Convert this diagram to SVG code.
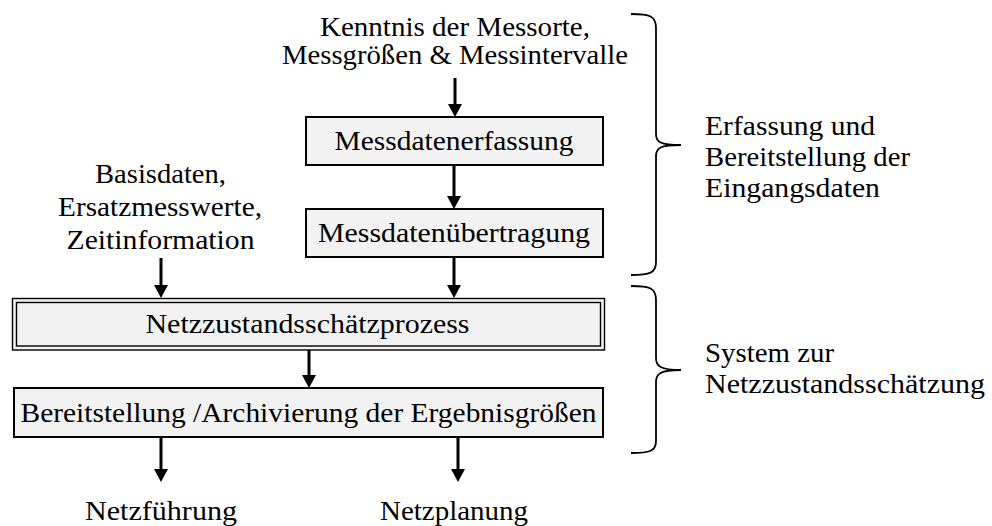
<svg xmlns="http://www.w3.org/2000/svg" width="992" height="526" viewBox="0 0 992 526">
<defs>
<style>
text{font-family:"Liberation Serif","Times New Roman",serif;font-size:27px;fill:#000}
.c{text-anchor:middle}
.box{fill:#f2f2f2;stroke:#000;stroke-width:2}
.dbl{fill:none;stroke:#000;stroke-width:1.4}
.arr{stroke:#000;stroke-width:3;fill:none;marker-end:url(#ah)}
.br{fill:none;stroke:#000;stroke-width:1.8}
</style>
<marker id="ah" markerUnits="userSpaceOnUse" viewBox="0 0 13 14" markerWidth="13" markerHeight="14" refX="2" refY="7" orient="auto">
<path d="M0,0 L13,7 L0,14 Z" fill="#000"/>
</marker>
</defs>
<rect width="992" height="526" fill="#fff"/>
<g id="connectors">
<line class="arr" x1="455" y1="78" x2="455" y2="106"/>
<line class="arr" x1="454" y1="165" x2="454" y2="198"/>
<line class="arr" x1="454" y1="257" x2="454" y2="287"/>
<line class="arr" x1="161" y1="258" x2="161" y2="287"/>
<line class="arr" x1="309" y1="350" x2="309" y2="377"/>
<line class="arr" x1="161" y1="437" x2="161" y2="471"/>
<line class="arr" x1="458" y1="437" x2="458" y2="471"/>
</g>
<g id="input-top">
<text class="c" x="455" y="36" textLength="270" lengthAdjust="spacingAndGlyphs">Kenntnis der Messorte,</text>
<text class="c" x="455" y="64" textLength="346" lengthAdjust="spacingAndGlyphs">Messgrößen &amp; Messintervalle</text>
</g>
<g id="messdatenerfassung">
<rect class="box" x="306" y="117" width="297" height="48"/>
<text class="c" x="454" y="150" textLength="239" lengthAdjust="spacingAndGlyphs">Messdatenerfassung</text>
</g>
<g id="messdatenuebertragung">
<rect class="box" x="306" y="209" width="297" height="48"/>
<text class="c" x="454" y="241.5" textLength="272" lengthAdjust="spacingAndGlyphs">Messdatenübertragung</text>
</g>
<g id="input-left">
<text class="c" x="160.5" y="183" textLength="131" lengthAdjust="spacingAndGlyphs">Basisdaten,</text>
<text class="c" x="160" y="216" textLength="204" lengthAdjust="spacingAndGlyphs">Ersatzmesswerte,</text>
<text class="c" x="160.5" y="249" textLength="188" lengthAdjust="spacingAndGlyphs">Zeitinformation</text>
</g>
<g id="netzzustandsschaetzprozess">
<rect x="12.5" y="298.5" width="592" height="51.5" fill="#f2f2f2" stroke="none"/>
<rect class="dbl" x="12.5" y="298.5" width="592" height="51.5"/>
<rect class="dbl" x="16.5" y="302.5" width="584" height="43.5"/>
<text class="c" x="307.5" y="333" textLength="324" lengthAdjust="spacingAndGlyphs">Netzzustandsschätzprozess</text>
</g>
<g id="bereitstellung">
<rect class="box" x="14" y="388" width="589" height="49"/>
<text class="c" x="308.5" y="422" textLength="576" lengthAdjust="spacingAndGlyphs">Bereitstellung /Archivierung der Ergebnisgrößen</text>
</g>
<g id="output-netzfuehrung">
<text class="c" x="161" y="520" textLength="152" lengthAdjust="spacingAndGlyphs">Netzführung</text>
</g>
<g id="output-netzplanung">
<text class="c" x="454" y="520" textLength="148" lengthAdjust="spacingAndGlyphs">Netzplanung</text>
</g>
<g id="brace-erfassung">
<path class="br" d="M631,14 C650,14 656,16 656,28 V134 C656,142 660,145 681,145 C660,145 656,148 656,156 V262 C656,273 650,275 631,275"/>
<text x="705" y="135" textLength="170" lengthAdjust="spacingAndGlyphs">Erfassung und</text>
<text x="705" y="166" textLength="205" lengthAdjust="spacingAndGlyphs">Bereitstellung der</text>
<text x="705" y="197" textLength="175" lengthAdjust="spacingAndGlyphs">Eingangsdaten</text>
</g>
<g id="brace-system">
<path class="br" d="M631,286 C650,286 656,288 656,300 V358 C656,366 660,370 681,370 C660,370 656,374 656,382 V441 C656,451 650,453 631,453"/>
<text x="705" y="362" textLength="129" lengthAdjust="spacingAndGlyphs">System zur</text>
<text x="705" y="393" textLength="280" lengthAdjust="spacingAndGlyphs">Netzzustandsschätzung</text>
</g>
</svg>
